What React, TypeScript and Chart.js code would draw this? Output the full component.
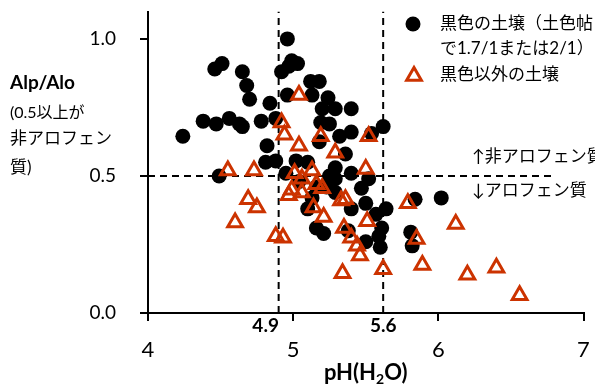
import React, { useEffect, useRef } from 'react';
import { Chart, registerables } from 'chart.js';

Chart.register(...registerables);

const FONT = "Lato, 'Noto Sans CJK JP', sans-serif";

// 黒色の土壌 (black soils)
const blackPH = [4.96, 4.99, 5.03, 4.97, 4.92, 4.46, 4.51, 4.65, 4.68, 4.70, 4.84, 4.96, 5.12, 5.18, 5.13, 5.24, 5.20, 5.29, 5.40, 4.38, 4.47, 4.56, 4.63, 4.65, 4.78, 4.88, 5.19, 5.25, 5.32, 5.40, 5.54, 5.62, 4.24, 4.82, 4.81, 4.88, 4.49, 4.95, 5.02, 5.10, 5.18, 5.36, 5.40, 5.29, 5.29, 5.47, 5.52, 5.29, 5.10, 5.40, 5.50, 5.57, 5.16, 5.21, 5.38, 5.59, 5.61, 5.50, 5.60, 5.84, 6.02, 5.64, 5.81, 5.82, 5.04, 5.16, 5.25, 5.23, 5.13];
const blackRatio = [1.00, 0.92, 0.91, 0.90, 0.88, 0.89, 0.91, 0.88, 0.83, 0.78, 0.765, 0.795, 0.845, 0.845, 0.795, 0.785, 0.745, 0.745, 0.745, 0.70, 0.69, 0.71, 0.69, 0.68, 0.70, 0.71, 0.695, 0.69, 0.645, 0.66, 0.655, 0.68, 0.645, 0.61, 0.55, 0.555, 0.50, 0.51, 0.555, 0.55, 0.625, 0.58, 0.51, 0.53, 0.49, 0.455, 0.49, 0.44, 0.38, 0.38, 0.40, 0.36, 0.31, 0.29, 0.30, 0.28, 0.31, 0.26, 0.24, 0.415, 0.42, 0.38, 0.295, 0.245, 0.48, 0.46, 0.50, 0.46, 0.42];

// 黒色以外の土壌 (other soils)
const otherPH = [5.04, 4.92, 4.94, 5.04, 5.19, 5.29, 5.52, 5.50, 4.55, 4.73, 5.01, 5.13, 5.06, 5.16, 5.20, 4.99, 4.97, 5.06, 5.14, 5.33, 5.36, 5.21, 5.35, 5.40, 5.51, 5.44, 5.46, 5.34, 5.62, 4.69, 4.75, 4.60, 4.88, 4.93, 5.79, 6.12, 5.85, 5.89, 6.20, 6.40, 6.56];
const otherRatio = [0.795, 0.695, 0.65, 0.61, 0.645, 0.585, 0.645, 0.525, 0.52, 0.52, 0.51, 0.52, 0.49, 0.47, 0.455, 0.45, 0.43, 0.44, 0.385, 0.41, 0.415, 0.35, 0.31, 0.275, 0.335, 0.245, 0.21, 0.145, 0.16, 0.415, 0.385, 0.33, 0.28, 0.275, 0.40, 0.325, 0.27, 0.175, 0.14, 0.165, 0.065];

const xMin = 4;
const xMax = 7;
const yMin = 0;
const yMax = 1.1;
const xTickValues = [4, 5, 6, 7];
const yTickValues = [0, 0.5, 1.0];
const phLines = [4.9, 5.62];
const phLineLabels = ['4.9', '5.6'];
const ratioLine = 0.5;
const ratioLineEnd = 6.8;

const legendLabels = ['黒色の土壌（土色帖', 'で1.7/1または2/1）', '黒色以外の土壌'];
const yTitleLines = ['Alp/Alo', '(0.5以上が', '非アロフェン', '質)'];
const xTitleParts = ['pH(H', '2', 'O)'];
const zoneLabels = ['↑非アロフェン質', '↓アロフェン質'];

const RED = '#CC3300';

function drawTri(ctx: CanvasRenderingContext2D, x: number, y: number, r: number) {
  ctx.beginPath();
  let rad = 0;
  ctx.moveTo(x + Math.sin(rad) * r, y - Math.cos(rad) * r);
  rad += (2 * Math.PI) / 3;
  ctx.lineTo(x + Math.sin(rad) * r, y - Math.cos(rad) * r);
  rad += (2 * Math.PI) / 3;
  ctx.lineTo(x + Math.sin(rad) * r, y - Math.cos(rad) * r);
  ctx.closePath();
  ctx.stroke();
}

const textPlugin = {
  id: 'textPlugin',
  afterDraw(chart: any) {
    const ctx: CanvasRenderingContext2D = chart.ctx;
    const xs = chart.scales.x;
    const ys = chart.scales.y;
    ctx.save();
    ctx.fillStyle = '#000';
    ctx.textBaseline = 'middle';
    ctx.textAlign = 'left';

    // Y title block
    ctx.font = `bold 19px ${FONT}`;
    ctx.fillText(yTitleLines[0], 10, 83);
    ctx.font = `16px ${FONT}`;
    ctx.fillText(yTitleLines[1], 10, 113);
    ctx.font = `17px ${FONT}`;
    ctx.fillText(yTitleLines[2], 10, 139);
    ctx.fillText(yTitleLines[3], 10, 168);

    // threshold labels
    ctx.font = `bold 19px ${FONT}`;
    ctx.textAlign = 'center';
    ctx.fillText(phLineLabels[0], xs.getPixelForValue(phLines[0]) - 13, xs.top + 13);
    ctx.fillText(phLineLabels[1], xs.getPixelForValue(phLines[1]), xs.top + 13);

    // X title with subscript
    ctx.textAlign = 'left';
    ctx.textBaseline = 'alphabetic';
    const big = `bold 22px ${FONT}`;
    const small = `bold 14px ${FONT}`;
    ctx.font = big;
    const w0 = ctx.measureText(xTitleParts[0]).width;
    const w2 = ctx.measureText(xTitleParts[2]).width;
    ctx.font = small;
    const w1 = ctx.measureText(xTitleParts[1]).width;
    const cx = (xs.left + xs.right) / 2;
    let tx = cx - (w0 + w1 + w2) / 2;
    const baseY = 380;
    ctx.font = big;
    ctx.fillText(xTitleParts[0], tx, baseY);
    tx += w0;
    ctx.font = small;
    ctx.fillText(xTitleParts[1], tx, baseY + 4);
    tx += w1;
    ctx.font = big;
    ctx.fillText(xTitleParts[2], tx, baseY);

    // zone labels
    ctx.textBaseline = 'middle';
    ctx.font = `17px ${FONT}`;
    ctx.fillText(zoneLabels[0], 472, ys.getPixelForValue(ratioLine) - 19);
    ctx.fillText(zoneLabels[1], 472, ys.getPixelForValue(ratioLine) + 15);

    // legend
    ctx.beginPath();
    ctx.arc(413, 24, 7.5, 0, Math.PI * 2);
    ctx.fill();
    ctx.font = `17px ${FONT}`;
    ctx.fillText(legendLabels[0], 440, 24);
    ctx.fillText(legendLabels[1], 440, 49);
    ctx.strokeStyle = RED;
    ctx.lineWidth = 3;
    drawTri(ctx, 414, 76, 8.5);
    ctx.fillText(legendLabels[2], 440, 75);
    ctx.restore();
  },
};

export default function App() {
  const ref = useRef<HTMLCanvasElement | null>(null);
  useEffect(() => {
    if (!ref.current) return;
    const dash = {
      showLine: true,
      pointRadius: 0,
      borderColor: '#000',
      borderWidth: 2,
      borderDash: [7, 5],
      order: 3,
    };
    const chart = new Chart(ref.current, {
      type: 'scatter',
      data: {
        datasets: [
          {
            label: legendLabels[2],
            data: otherPH.map((x, i) => ({ x, y: otherRatio[i] })),
            pointStyle: 'triangle',
            pointRadius: 8.5,
            borderWidth: 3,
            borderColor: RED,
            backgroundColor: 'rgba(0,0,0,0)',
            order: 1,
          },
          {
            label: legendLabels[0],
            data: blackPH.map((x, i) => ({ x, y: blackRatio[i] })),
            pointStyle: 'circle',
            pointRadius: 7.5,
            borderWidth: 0,
            backgroundColor: '#000',
            order: 2,
          },
          { ...dash, data: [{ x: phLines[0], y: yMin }, { x: phLines[0], y: yMax }] },
          { ...dash, data: [{ x: phLines[1], y: yMin }, { x: phLines[1], y: yMax }] },
          { ...dash, data: [{ x: xMin, y: ratioLine }, { x: ratioLineEnd, y: ratioLine }] },
        ] as any,
      },
      options: {
        animation: false,
        responsive: false,
        layout: { padding: { left: 0, top: 10, right: 9, bottom: 0 } },
        plugins: { legend: { display: false }, tooltip: { enabled: false } },
        scales: {
          x: {
            type: 'linear',
            min: xMin,
            max: xMax,
            afterBuildTicks: (axis: any) => {
              axis.ticks = xTickValues.map((v) => ({ value: v }));
            },
            afterFit: (axis: any) => {
              axis.height = 76;
              axis.paddingLeft = 0;
              axis.paddingRight = 0;
              axis.paddingTop = 0;
              axis.paddingBottom = 0;
            },
            ticks: {
              font: { family: FONT, size: 22 },
              color: '#000',
              padding: 16,
              maxRotation: 0,
              callback: (v: any) => String(v),
            },
            grid: { drawOnChartArea: false, color: '#000', lineWidth: 2, tickLength: 8 },
            border: { color: '#000', width: 2 },
          },
          y: {
            type: 'linear',
            min: yMin,
            max: yMax,
            afterBuildTicks: (axis: any) => {
              axis.ticks = yTickValues.map((v) => ({ value: v }));
            },
            afterFit: (axis: any) => {
              axis.width = 148;
              axis.paddingLeft = 0;
              axis.paddingRight = 0;
              axis.paddingTop = 0;
              axis.paddingBottom = 0;
            },
            ticks: {
              font: { family: FONT, size: 19 },
              color: '#000',
              padding: 24,
              callback: (v: any) => Number(v).toFixed(1),
            },
            grid: { drawOnChartArea: false, color: '#000', lineWidth: 2, tickLength: 8 },
            border: { color: '#000', width: 2 },
          },
        },
      } as any,
      plugins: [textPlugin],
    });
    return () => chart.destroy();
  }, []);
  return (
    <div style={{ position: 'absolute', left: 0, top: 0, width: 595, height: 389, background: '#fff' }}>
      <canvas ref={ref} width={595} height={389} style={{ display: 'block' }} />
    </div>
  );
}
